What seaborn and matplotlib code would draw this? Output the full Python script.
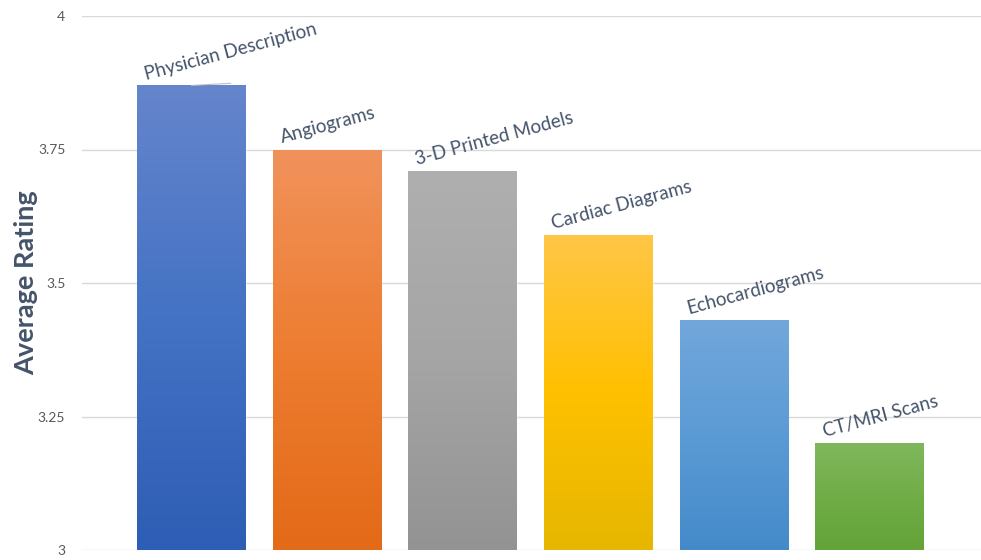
import numpy as np
import pandas as pd
import matplotlib
matplotlib.use("Agg")
import matplotlib.pyplot as plt
from matplotlib.colors import LinearSegmentedColormap
import seaborn as sns

categories = ["Physician Description", "Angiograms", "3-D Printed Models",
              "Cardiac Diagrams", "Echocardiograms", "CT/MRI Scans"]
ratings = [3.87, 3.75, 3.71, 3.59, 3.43, 3.20]
y_ticks = [3, 3.25, 3.5, 3.75, 4]
y_ticklabels = ["3", "3.25", "3.5", "3.75", "4"]

# gradient colours per bar: (top, middle, bottom)
bar_gradients = [
    ("#6585cc", "#4472c4", "#2e5db5"),
    ("#f1925c", "#ed7d31", "#e36a17"),
    ("#afafaf", "#a5a5a5", "#939393"),
    ("#ffc647", "#ffc000", "#e6b700"),
    ("#72a7db", "#5b9bd5", "#448aca"),
    ("#80b75d", "#70ad47", "#63a338"),
]

sns.set_theme(style="white")
plt.rcParams["font.family"] = ["Lato", "DejaVu Sans"]

df = pd.DataFrame({"category": categories, "rating": ratings})

fig = plt.figure(figsize=(9.81, 5.6), dpi=100)
ax = fig.add_axes([82 / 981, 10 / 560, 1 - 82 / 981, 534 / 560])

sns.barplot(data=df, x="category", y="rating", hue="category",
            palette=[g[1] for g in bar_gradients], legend=False,
            width=0.8, ax=ax, zorder=2)

y_min, y_max = 3, 4

# replace flat fills with vertical gradients over the visible part of each bar
for patch, grad in zip(ax.patches, bar_gradients):
    x0 = patch.get_x()
    w, top = patch.get_width(), patch.get_y() + patch.get_height()
    cmap = LinearSegmentedColormap.from_list("g", [grad[2], grad[1], grad[0]])
    img = ax.imshow(np.linspace(0, 1, 256).reshape(-1, 1), cmap=cmap,
                    extent=[x0, x0 + w, y_min, top], origin="lower",
                    aspect="auto", zorder=2, interpolation="bicubic")
    img.set_clip_path(patch)
    patch.set_facecolor("none")
    patch.set_edgecolor("#ffffff")
    patch.set_linewidth(0.4)

ax.set_ylim(y_min, y_max)
ax.set_xlim(-0.8075, 5.822)

ax.set_yticks(y_ticks)
ax.set_yticklabels(y_ticklabels, fontsize=10, color="#595959")
ax.tick_params(axis="y", length=0, pad=12)
ax.set_xticks([])
ax.set_xlabel("")
ax.set_ylabel("Average Rating", fontsize=19.5, fontweight="bold", color="#44546a")
ax.yaxis.set_label_coords(-0.049, 0.5)

ax.grid(axis="y", color="#d9d9d9", linewidth=1, zorder=0)
for side in ["top", "right", "left", "bottom"]:
    ax.spines[side].set_visible(False)

# category labels above each bar
for i, (cat, val) in enumerate(zip(categories, ratings)):
    kw = dict(xy=(i - 0.4, val), xytext=(9, 6), textcoords="offset pixels",
              ha="left", va="baseline", rotation=15, rotation_mode="anchor",
              fontsize=13.5, color="#44546a", annotation_clip=False, zorder=4)
    if i == 0:
        kw["xy"] = (i, val)
        kw["xytext"] = (-45, 5)
        kw["arrowprops"] = dict(arrowstyle="-", color="#bfbfbf", lw=0.8,
                                shrinkA=0, shrinkB=0, relpos=(0.5, 0))
    ax.annotate(cat, **kw)

fig.savefig("out.png", dpi=100)
